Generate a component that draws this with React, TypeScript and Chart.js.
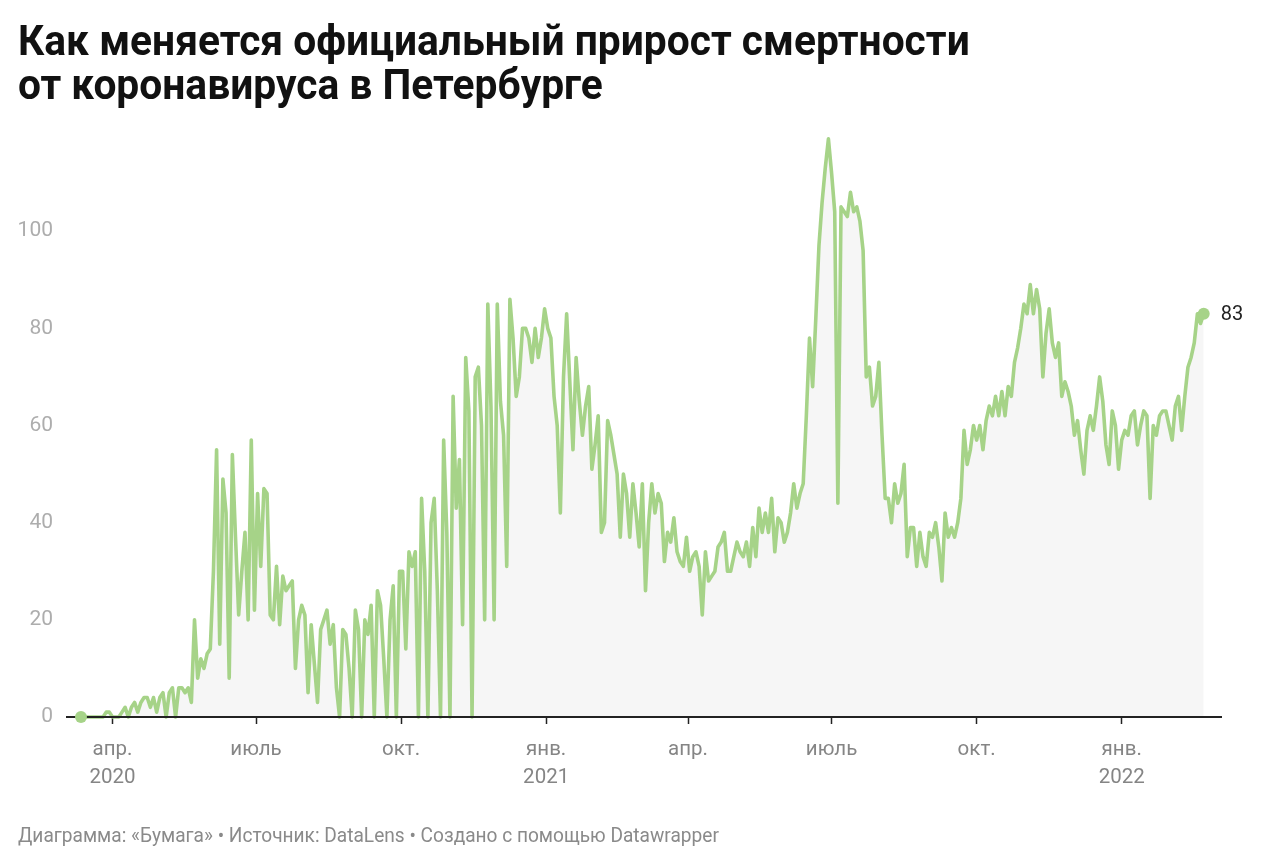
import React, { useEffect, useRef } from "react";
import { Chart, registerables } from "chart.js";

Chart.register(...registerables);

// Days are counted from 1 April 2020; first value is 12 March 2020, one value every 2 days
const firstDay = -20;
const stepDays = 2;

// Daily increase in official COVID deaths, St Petersburg
const deathsMarMay2020 = [
  0, 0, 0, 0, 0, 0, 0, 0, 1, 1, 0, 0, 0, 1, 2, 0, 2, 3, 1, 3,
  4, 4, 2, 4, 1, 4, 5, 0, 5, 6, 0, 6, 6, 5, 6, 3, 20, 8, 12, 10,
];
const deathsMayAug2020 = [
  13, 14, 30, 55, 15, 49, 42, 8, 54, 37, 21, 30, 38, 20, 57, 22, 46, 31, 47, 46,
  21, 20, 31, 19, 29, 26, 27, 28, 10, 20, 23, 21, 5, 19, 11, 3, 18, 20, 22, 15,
];
const deathsAugOct2020 = [
  19, 6, 0, 18, 17, 10, 0, 22, 18, 0, 20, 17, 23, 0, 26, 23, 12, 0, 20, 27,
  0, 30, 30, 14, 34, 31, 34, 0, 45, 30, 0, 40, 45, 26, 0, 57, 38, 0, 66, 43,
];
const deathsOctDec2020 = [
  53, 19, 74, 63, 0, 70, 72, 60, 20, 85, 64, 20, 85, 65, 58, 31, 86, 78, 66, 70,
  80, 80, 78, 73, 80, 74, 78, 84, 80, 78, 66, 60, 42, 70, 83, 69, 55, 74, 65, 58,
];
const deathsJanMar2021 = [
  64, 68, 51, 56, 62, 38, 40, 61, 58, 54, 50, 37, 50, 46, 37, 48, 42, 35, 48, 26,
  40, 48, 42, 46, 44, 32, 38, 36, 41, 34, 32, 31, 37, 30, 33, 34, 31, 21, 34, 28,
];
const deathsAprJun2021 = [
  29, 30, 35, 36, 38, 30, 30, 33, 36, 34, 33, 36, 31, 39, 33, 43, 38, 42, 38, 45,
  34, 41, 40, 36, 38, 42, 48, 43, 46, 48, 62, 78, 68, 82, 97, 106, 113, 119, 112, 104,
];
const deathsJulSep2021 = [
  44, 105, 104, 103, 108, 104, 105, 102, 96, 70, 72, 64, 66, 73, 58, 45, 45, 40, 48, 44,
  46, 52, 33, 39, 39, 31, 38, 33, 31, 38, 37, 40, 35, 28, 42, 37, 39, 37, 40, 45,
];
const deathsSepDec2021 = [
  59, 52, 55, 60, 57, 60, 55, 61, 64, 62, 66, 62, 67, 62, 68, 66, 73, 76, 80, 85,
  83, 89, 83, 88, 84, 70, 79, 84, 77, 74, 77, 66, 69, 67, 64, 58, 61, 55, 50, 59,
];
const deathsDec2021Feb2022 = [
  62, 59, 64, 70, 65, 56, 52, 63, 60, 51, 57, 59, 58, 62, 63, 56, 60, 63, 62, 45,
  60, 58, 62, 63, 63, 60, 57, 64, 66, 59, 66, 72, 74, 77, 83, 81, 83,
];

const deaths = [
  ...deathsMarMay2020,
  ...deathsMayAug2020,
  ...deathsAugOct2020,
  ...deathsOctDec2020,
  ...deathsJanMar2021,
  ...deathsAprJun2021,
  ...deathsJulSep2021,
  ...deathsSepDec2021,
  ...deathsDec2021Feb2022,
];

// x-axis ticks (days from 1 April 2020)
const tickDays = [0, 91, 183, 275, 365, 456, 548, 640];
const tickMonths = ["апр.", "июль", "окт.", "янв.", "апр.", "июль", "окт.", "янв."];
const tickYears = ["2020", "", "", "2021", "", "", "", "2022"];
const yTickValues = [0, 20, 40, 60, 80, 100];

const TITLE_LINES = [
  "Как меняется официальный прирост смертности",
  "от коронавируса в Петербурге",
];
const FOOTER = "Диаграмма: «Бумага» • Источник: DataLens • Создано с помощью Datawrapper";

const GREEN = "rgb(166, 211, 136)";
const FONT = "Roboto, 'Noto Sans', sans-serif";

export default function App() {
  const canvasRef = useRef<HTMLCanvasElement | null>(null);

  useEffect(() => {
    const canvas = canvasRef.current;
    if (!canvas) return;
    const last = deaths.length - 1;
    const points = deaths.map((v, i) => ({ x: firstDay + i * stepDays, y: v }));

    const overlay = {
      id: "overlay",
      afterDatasetsDraw(chart: any) {
        const meta = chart.getDatasetMeta(0);
        const first = meta.data[0];
        const p = meta.data[last];
        if (!p || !first) return;
        const ctx = chart.ctx;
        const area = chart.chartArea;
        ctx.save();
        // axis baseline on top of the area fill
        ctx.strokeStyle = "#222";
        ctx.lineWidth = 1.8;
        ctx.beginPath();
        ctx.moveTo(area.left, area.bottom);
        ctx.lineTo(area.right, area.bottom);
        ctx.stroke();
        // start and end dots
        ctx.fillStyle = GREEN;
        for (const el of [first, p]) {
          ctx.beginPath();
          ctx.arc(el.x, el.y, 6, 0, Math.PI * 2);
          ctx.fill();
        }
        // end label
        ctx.font = `20px ${FONT}`;
        ctx.fillStyle = "#222";
        ctx.textAlign = "left";
        ctx.textBaseline = "middle";
        ctx.fillText(String(deaths[last]), p.x + 17, p.y + 1);
        ctx.restore();
      },
    };

    const chart = new Chart(canvas, {
      type: "line",
      data: {
        datasets: [
          {
            data: points,
            borderColor: GREEN,
            borderWidth: 3.6,
            borderJoinStyle: "round",
            backgroundColor: "#f6f6f6",
            fill: "origin",
            tension: 0,
            clip: false,
            pointRadius: 0,
            pointHoverRadius: 0,
          } as any,
        ],
      },
      options: {
        responsive: false,
        animation: false,
        events: [],
        layout: { padding: { top: 134, right: 58, left: 0, bottom: 0 } },
        plugins: { legend: { display: false }, tooltip: { enabled: false } },
        scales: {
          x: {
            type: "linear",
            min: -29.5,
            max: 703.6,
            afterBuildTicks: (s: any) => {
              s.ticks = tickDays.map((v) => ({ value: v }));
            },
            afterFit: (s: any) => {
              s.height = 148;
            },
            ticks: {
              autoSkip: false,
              maxRotation: 0,
              color: "#858585",
              font: { family: FONT, size: 20.5, lineHeight: 1.35 },
              padding: 12,
              callback: (_v: any, i: number) =>
                tickYears[i] ? [tickMonths[i], tickYears[i]] : tickMonths[i],
            },
            grid: {
              drawOnChartArea: false,
              drawTicks: true,
              tickLength: 7,
              tickColor: "#222",
              tickWidth: 1.5,
            },
            border: { display: false },
          },
          y: {
            min: 0,
            max: 120,
            afterBuildTicks: (s: any) => {
              s.ticks = yTickValues.map((v) => ({ value: v }));
            },
            afterFit: (s: any) => {
              s.width = 66;
            },
            ticks: {
              color: "#adadad",
              font: { family: FONT, size: 21 },
              padding: 13,
            },
            grid: { display: false, drawTicks: false },
            border: { display: false },
          },
        },
      },
      plugins: [overlay],
    });
    return () => chart.destroy();
  }, []);

  return (
    <div
      style={{
        position: "absolute",
        left: 0,
        top: 0,
        width: 1280,
        height: 865,
        background: "#fff",
        overflow: "hidden",
        fontFamily: FONT,
      }}
    >
      <canvas
        ref={canvasRef}
        width={1280}
        height={865}
        style={{ position: "absolute", left: 0, top: 0, width: 1280, height: 865 }}
      />
      <div
        style={{
          position: "absolute",
          left: 18,
          top: 19,
          fontSize: 42,
          lineHeight: "44px",
          fontWeight: 700,
          color: "#111",
          whiteSpace: "nowrap",
          transform: "scaleX(0.97)",
          transformOrigin: "left top",
        }}
      >
        {TITLE_LINES.map((t) => (
          <div key={t}>{t}</div>
        ))}
      </div>
      <div
        style={{
          position: "absolute",
          left: 18,
          top: 825,
          fontSize: 20,
          lineHeight: "20px",
          color: "#8a8a8a",
          whiteSpace: "nowrap",
          transform: "scaleX(0.955)",
          transformOrigin: "left top",
        }}
      >
        {FOOTER}
      </div>
    </div>
  );
}
